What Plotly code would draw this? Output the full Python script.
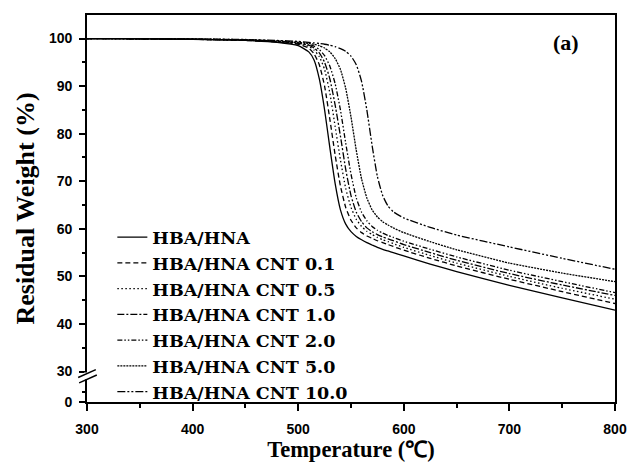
import plotly.graph_objects as go

temps = [300, 350, 400, 450, 480, 500, 510, 515, 520, 525, 530, 535, 540, 545, 550,
         555, 560, 565, 570, 575, 580, 585, 590, 600, 625, 650, 700, 750, 800]

hba_hna = [100.0, 99.95, 99.85, 99.6, 99.2, 98.5, 97.2, 95.5, 91.5, 85.0, 77.0, 69.5, 64.0, 61.0, 59.4,
           58.4, 57.7, 57.1, 56.6, 56.1, 55.7, 55.35, 55.0, 54.3, 52.6, 51.0, 48.1, 45.5, 42.9]
cnt_01 = [100.0, 99.95, 99.85, 99.6, 99.3, 98.8, 98.0, 96.8, 94.5, 90.0, 83.0, 75.5, 69.0, 64.5, 61.8,
          60.2, 59.2, 58.5, 58.0, 57.5, 57.1, 56.7, 56.3, 55.5, 53.8, 52.2, 49.4, 46.8, 44.3]
cnt_05 = [100.0, 99.95, 99.85, 99.65, 99.35, 98.9, 98.4, 97.6, 96.2, 93.5, 88.5, 81.5, 74.5, 68.5, 64.5,
          62.0, 60.5, 59.5, 58.8, 58.2, 57.7, 57.3, 56.9, 56.1, 54.4, 52.8, 50.0, 47.5, 45.2]
cnt_10 = [100.0, 99.95, 99.85, 99.65, 99.4, 99.0, 98.6, 98.0, 97.0, 95.0, 91.5, 86.0, 79.5, 72.5, 67.0,
          63.5, 61.5, 60.2, 59.4, 58.8, 58.3, 57.9, 57.5, 56.7, 55.0, 53.4, 50.6, 48.2, 46.0]
cnt_20 = [100.0, 99.95, 99.85, 99.7, 99.45, 99.1, 98.8, 98.4, 97.7, 96.4, 94.2, 90.5, 85.0, 78.0, 71.5,
          66.5, 63.5, 61.7, 60.5, 59.7, 59.1, 58.6, 58.2, 57.4, 55.7, 54.1, 51.3, 48.9, 46.6]
cnt_50 = [100.0, 99.95, 99.9, 99.75, 99.5, 99.2, 99.0, 98.8, 98.5, 98.0, 97.2, 95.8, 93.5, 89.5, 83.5,
          76.5, 70.5, 66.5, 64.0, 62.5, 61.5, 60.8, 60.2, 59.2, 57.3, 55.6, 52.8, 50.7, 48.9]
cnt_100 = [100.0, 99.95, 99.9, 99.8, 99.6, 99.4, 99.2, 99.1, 98.95, 98.8, 98.6, 98.3, 97.9, 97.3, 96.3,
           94.5, 91.0, 85.0, 77.5, 71.0, 67.0, 64.8, 63.6, 62.3, 60.3, 58.7, 56.2, 53.8, 51.5]

names = ["HBA/HNA", "HBA/HNA CNT 0.1", "HBA/HNA CNT 0.5", "HBA/HNA CNT 1.0",
         "HBA/HNA CNT 2.0", "HBA/HNA CNT 5.0", "HBA/HNA CNT 10.0"]
series = [hba_hna, cnt_01, cnt_05, cnt_10, cnt_20, cnt_50, cnt_100]

y_tick_values = [0, 30, 40, 50, 60, 70, 80, 90, 100]
x_tick_values = [300, 400, 500, 600, 700, 800]

# broken axis: the 0..30 segment is compressed
BREAK_BOTTOM = 23.6   # axis position representing 0
def ypos(v):
    return BREAK_BOTTOM if v == 0 else v

dashes = ["solid", "5px,3px", "1.5px,2.5px", "7px,2px,2px,2px",
          "5px,2px,1.5px,2px,1.5px,2px", "2px,1px", "8px,2px,2px,2px,2px,2px"]

fig = go.Figure()
for name, vals, d in zip(names, series, dashes):
    fig.add_trace(go.Scatter(x=temps, y=vals, name=name, mode="lines",
                             line=dict(color="black", width=1.3, dash=d, shape="spline", smoothing=0.5)))

serif = "Liberation Serif"
legend_serif = "DejaVu Serif"
sans = "Liberation Sans"

fig.update_layout(
    width=639, height=470,
    margin=dict(l=87, r=14, t=15, b=61),
    paper_bgcolor="white", plot_bgcolor="white",
    showlegend=True,
    legend=dict(x=0.048, y=0.472, xanchor="left", yanchor="top",
                font=dict(family=legend_serif, size=17.5, color="black", weight="bold"),
                bgcolor="rgba(0,0,0,0)", borderwidth=0, tracegroupgap=0),
    xaxis=dict(range=[300, 800], tickvals=x_tick_values,
               ticks="outside", ticklen=7, tickwidth=1.5, tickcolor="black",
               ticklabelstandoff=6,
               showline=True, linecolor="black", linewidth=1.6, mirror=True,
               showgrid=False, zeroline=False,
               minor=dict(dtick=50, tick0=300, ticks="outside", ticklen=4, tickwidth=1.5, tickcolor="black"),
               tickfont=dict(family=sans, size=14, color="black", weight="bold"),
               title=dict(text="Temperature (℃)", standoff=6,
                          font=dict(family=serif, size=22.5, color="black", weight="bold"))),
    yaxis=dict(range=[BREAK_BOTTOM, 104.95],
               tickvals=[ypos(v) for v in y_tick_values],
               ticktext=[str(v) for v in y_tick_values],
               ticks="outside", ticklen=6, tickwidth=1.5, tickcolor="black",
               ticklabelstandoff=4,
               showline=True, linecolor="black", linewidth=1.6, mirror=True,
               showgrid=False, zeroline=False,
               minor=dict(tickvals=[25.8, 35, 45, 55, 65, 75, 85, 95], ticks="outside",
                          ticklen=3.5, tickwidth=1.5, tickcolor="black"),
               tickfont=dict(family=sans, size=14, color="black", weight="bold"),
               title=dict(text="Residual Weight (%)", standoff=7,
                          font=dict(family=serif, size=26, color="black", weight="bold"))),
    annotations=[dict(text="(a)", x=0.907, y=0.929, xref="paper", yref="paper",
                      xanchor="center", yanchor="middle",
                      showarrow=False, font=dict(family=serif, size=22, color="black", weight="bold"))],
)

# axis-break marks on the left axis
W, H = 538.0, 394.0
def px(xp):
    return (xp - 87) / W
def py(yp):
    return (409 - yp) / H
fig.add_shape(type="rect", xref="paper", yref="paper", x0=px(84), x1=px(90), y0=py(386), y1=py(379),
              fillcolor="white", line=dict(width=0), layer="above")
fig.add_shape(type="line", xref="paper", yref="paper", x0=px(78), y0=py(384), x1=px(96), y1=py(376),
              line=dict(color="black", width=1.5), layer="above")
fig.add_shape(type="line", xref="paper", yref="paper", x0=px(79), y0=py(389.5), x1=px(97), y1=py(381.5),
              line=dict(color="black", width=1.5), layer="above")

fig.write_html("out.html")
